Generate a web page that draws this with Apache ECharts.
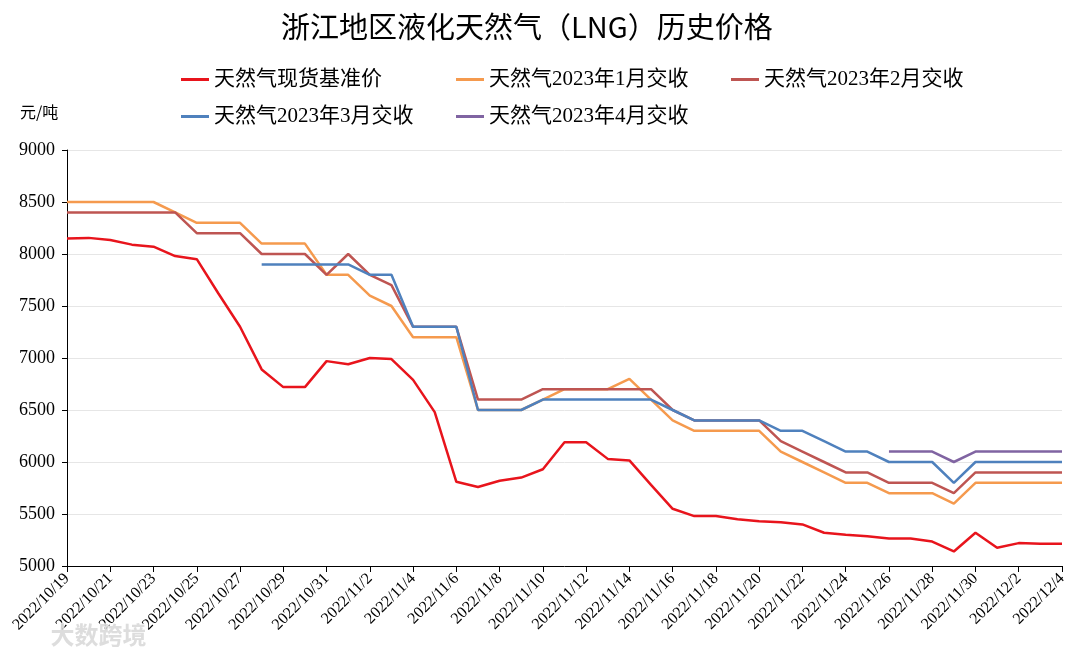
<!DOCTYPE html>
<html><head><meta charset="utf-8">
<script src="https://cdn.jsdelivr.net/npm/echarts@6/dist/echarts.min.js"></script>
<style>html,body{margin:0;padding:0;background:#fff;}#c{width:1080px;height:660px;}</style>
</head><body><div id="c"></div>
<script>
const titleText = '浙江地区液化天然气（LNG）历史价格';
const unitText = '元/吨';
const dates = ['2022/10/19','2022/10/20','2022/10/21','2022/10/22','2022/10/23','2022/10/24','2022/10/25','2022/10/26','2022/10/27','2022/10/28','2022/10/29','2022/10/30','2022/10/31',
'2022/11/1','2022/11/2','2022/11/3','2022/11/4','2022/11/5','2022/11/6','2022/11/7','2022/11/8','2022/11/9','2022/11/10','2022/11/11','2022/11/12','2022/11/13','2022/11/14','2022/11/15','2022/11/16','2022/11/17','2022/11/18','2022/11/19','2022/11/20','2022/11/21','2022/11/22','2022/11/23','2022/11/24','2022/11/25','2022/11/26','2022/11/27','2022/11/28','2022/11/29','2022/11/30',
'2022/12/1','2022/12/2','2022/12/3','2022/12/4'];
const seriesNames = ['天然气现货基准价','天然气2023年1月交收','天然气2023年2月交收','天然气2023年3月交收','天然气2023年4月交收'];
const spot = [8150,8155,8135,8090,8070,7980,7950,7620,7300,6890,6720,6720,6970,6940,7000,6990,6790,6480,5810,5760,5820,5850,5930,6190,6190,6030,6015,5780,5550,5480,5480,5450,5430,5420,5400,5320,5300,5285,5265,5265,5235,5140,5320,5175,5220,5215,5215];
const jan = [8500,8500,8500,8500,8500,8400,8300,8300,8300,8100,8100,8100,7800,7800,7600,7500,7200,7200,7200,6500,6500,6500,6600,6700,6700,6700,6800,6600,6400,6300,6300,6300,6300,6100,6000,5900,5800,5800,5700,5700,5700,5600,5800,5800,5800,5800,5800];
const feb = [8400,8400,8400,8400,8400,8400,8200,8200,8200,8000,8000,8000,7800,8000,7800,7700,7300,7300,7300,6600,6600,6600,6700,6700,6700,6700,6700,6700,6500,6400,6400,6400,6400,6200,6100,6000,5900,5900,5800,5800,5800,5700,5900,5900,5900,5900,5900];
const mar = [null,null,null,null,null,null,null,null,null,7900,7900,7900,7900,7900,7800,7800,7300,7300,7300,6500,6500,6500,6600,6600,6600,6600,6600,6600,6500,6400,6400,6400,6400,6300,6300,6200,6100,6100,6000,6000,6000,5800,6000,6000,6000,6000,6000];
const apr = [null,null,null,null,null,null,null,null,null,null,null,null,null,null,null,null,null,null,null,null,null,null,null,null,null,null,null,null,null,null,null,null,null,null,null,null,null,null,6100,6100,6100,6000,6100,6100,6100,6100,6100];
const yTicks = {min:5000, max:9000, step:500};

const colors = ['#E8141C','#F59A4E','#BE5552','#4F81BD','#8064A2'];
const values = [spot, jan, feb, mar, apr];
const fontMix = '"Liberation Serif","Noto Sans CJK SC",serif';

const legendPos = [[176,64],[451,64],[726,64],[176,101],[451,101]];
const chart = echarts.init(document.getElementById('c'));
chart.setOption({
  backgroundColor:'#fff',
  animation:false,
  title:{text:titleText,left:276,top:7,textStyle:{fontFamily:'"Noto Sans CJK SC",sans-serif',fontSize:29,fontWeight:'normal',color:'#000'}},
  legend: seriesNames.map((n,i)=>({
    data:[n], left:legendPos[i][0], top:legendPos[i][1], icon:'rect', itemWidth:28, itemHeight:3,
    itemGap:8, textStyle:{fontFamily:fontMix,fontSize:21,color:'#000'}
  })),
  graphic:[
    {type:'text',left:20,top:104,style:{text:unitText,fontFamily:'"Noto Sans CJK SC",sans-serif',fontSize:16,fill:'#000'}},
    {type:'text',left:50,top:622,z:100,style:{text:'大数跨境',fontFamily:'"Noto Sans CJK SC",sans-serif',fontSize:24,fontWeight:'bold',fill:'rgba(215,215,215,0.85)',stroke:'rgba(255,255,255,0.9)',lineWidth:1}}
  ],
  grid:{left:67,right:18,top:150,bottom:94,containLabel:false},
  xAxis:{
    type:'category', data:dates, boundaryGap:false,
    axisLine:{lineStyle:{color:'#000',width:1}},
    axisTick:{show:true,interval:1,length:6,lineStyle:{color:'#000'}},
    axisLabel:{interval:1,rotate:45,fontFamily:'"Liberation Serif",serif',fontSize:16,color:'#000',margin:10},
    splitLine:{show:false}
  },
  yAxis:{
    type:'value', min:yTicks.min, max:yTicks.max, interval:yTicks.step,
    axisLine:{show:true,lineStyle:{color:'#000',width:1}},
    axisTick:{show:true,length:5,lineStyle:{color:'#000'}},
    axisLabel:{formatter:v=>String(v),fontFamily:'"Liberation Serif",serif',fontSize:18,color:'#000',margin:12},
    splitLine:{show:true,lineStyle:{color:'#E6E6E6',width:1}}
  },
  series: seriesNames.map((n,i)=>({
    name:n, type:'line', data:values[i], showSymbol:false, symbol:'none',
    connectNulls:false, color:colors[i],
    lineStyle:{width:2.5,color:colors[i]}, z:i+2
  }))
});
</script></body></html>
